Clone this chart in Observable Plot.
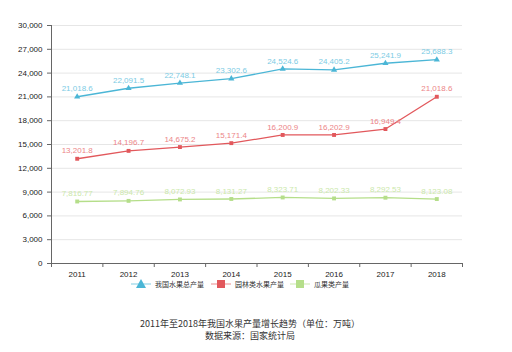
<!DOCTYPE html>
<html><head><meta charset="utf-8">
<script src="https://cdn.jsdelivr.net/npm/d3@7"></script>
<script src="https://cdn.jsdelivr.net/npm/@observablehq/plot@0.6"></script>
<style>
body{margin:0;background:#fff;font-family:"Liberation Sans","Noto Sans CJK SC",sans-serif;}
#wrap{position:relative;width:512px;height:352px;}
#legend{position:absolute;top:277px;left:0;width:512px;height:14px;font-size:7px;color:#333;font-family:"Noto Sans CJK SC",sans-serif;}
.item{position:absolute;top:0;display:flex;align-items:center;height:14px;}
.title{position:absolute;left:0;width:500px;text-align:center;font-size:9px;color:#333;font-family:"Noto Sans CJK SC",sans-serif;}
</style></head>
<body><div id="wrap"><div id="chart"></div><div id="legend"></div>
<div class="title" style="top:317px">2011年至2018年我国水果产量增长趋势（单位：万吨）</div>
<div class="title" style="top:329px">数据来源：国家统计局</div></div>
<script>
const years = [2011,2012,2013,2014,2015,2016,2017,2018];
const totalFruit = [21018.6,22091.5,22748.1,23302.6,24524.6,24405.2,25241.9,25688.3];
const orchardFruit = [13201.8,14196.7,14675.2,15171.4,16200.9,16202.9,16949.4,21018.6];
const melonFruit = [7816.77,7894.76,8072.93,8131.27,8323.71,8202.33,8292.53,8123.08];
const seriesNames = ["我国水果总产量","园林类水果产量","瓜果类产量"];
const lineColors = ["#4bb6d6","#e2585c","#b5de8a"];
const labelColors = ["#7ccbe4","#ec8587","#cbe8ab"];
const symbols = ["triangle","square","square"];
const yTicks = [0,3000,6000,9000,12000,15000,18000,21000,24000,27000,30000];

const allSeries = [totalFruit, orchardFruit, melonFruit];
const data = allSeries.flatMap((vals,i)=>vals.map((v,j)=>({year:years[j],value:v,series:seriesNames[i],idx:i})));
const boundaries = [years[0]-0.5, ...years.map(y=>y+0.5)];
const fmt = d3.format(",");
const lo = years[0]-0.5, hi = years[years.length-1]+0.5;

const marks = [
  Plot.gridY(yTicks.slice(1), {stroke:"#e6e6e6", strokeOpacity:1}),
  Plot.axisY({ticks:yTicks, tickFormat:d3.format(","), tickSize:4, stroke:"#666", fill:"#222", fontSize:8, label:null}),
  Plot.axisX({ticks:boundaries, tickFormat:()=>"", tickSize:4, stroke:"#666", label:null}),
  Plot.axisX({ticks:years, tickFormat:d=>String(d), tickSize:0, tickPadding:8, fill:"#222", fontSize:8, label:null}),
  Plot.ruleX([lo], {stroke:"#666"}),
  Plot.ruleY([0], {stroke:"#666"}),
];
allSeries.forEach((vals,i)=>{
  const d = data.filter(r=>r.idx===i);
  marks.push(Plot.line(d,{x:"year",y:"value",stroke:lineColors[i],strokeWidth:1.3}));
  marks.push(Plot.dot(d,{x:"year",y:"value",fill:lineColors[i],symbol:symbols[i],r:i===0?2.3:2.2,stroke:null}));
  marks.push(Plot.text(d,{x:"year",y:"value",text:r=>fmt(r.value),fill:labelColors[i],fontSize:8,dy:-8}));
});

const chart = Plot.plot({
  width:512, height:278,
  marginLeft:51, marginRight:50, marginTop:25, marginBottom:15,
  x:{domain:[lo,hi], axis:null},
  y:{domain:[0,30000], axis:null},
  style:{fontFamily:"Liberation Sans, sans-serif", background:"white"},
  marks
});
document.getElementById("chart").appendChild(chart);

// legend
const legend = document.getElementById("legend");
const lefts = [131, 211, 290];
seriesNames.forEach((name,i)=>{
  const el = document.createElement("div");
  el.className="item"; el.style.left=lefts[i]+"px";
  const shape = symbols[i]==="triangle"
    ? `<polygon points="10,1 15,10 5,10" fill="${lineColors[i]}"/>`
    : `<rect x="6" y="2" width="8" height="8" fill="${lineColors[i]}"/>`;
  el.innerHTML = `<svg width="22" height="12" style="margin-right:2px"><line x1="0" x2="20" y1="6" y2="6" stroke="${lineColors[i]}" stroke-opacity="0.35" stroke-width="2"/>${shape}</svg><span>${name}</span>`;
  legend.appendChild(el);
});
</script></body></html>
